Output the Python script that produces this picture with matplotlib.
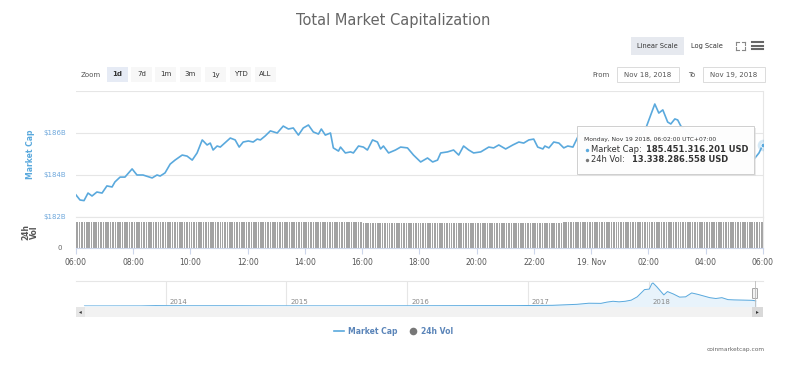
import numpy as np
import matplotlib
matplotlib.use("Agg")
import matplotlib.pyplot as plt
from matplotlib.patches import Rectangle, FancyBboxPatch

plt.rcParams['font.family'] = ['DejaVu Sans']

# hours after 06:00 on Nov 18 and total market cap in $B
hours = [0.00, 0.14, 0.28, 0.42, 0.56, 0.73, 0.91, 1.08, 1.26, 1.36, 1.54, 1.71, 1.96, 2.13,
         2.34, 2.66, 2.83, 2.94, 3.11, 3.29, 3.46, 3.71, 3.88, 4.06, 4.23, 4.41, 4.58, 4.69,
         4.79, 4.93, 5.04, 5.39, 5.56, 5.70, 5.84, 6.02, 6.19, 6.33, 6.44, 6.61, 6.79, 7.03,
         7.24, 7.42, 7.59, 7.77, 7.94, 8.12, 8.29, 8.47, 8.57, 8.71, 8.89, 8.99, 9.17, 9.24,
         9.41, 9.59, 9.69, 9.87, 10.04, 10.18, 10.36, 10.53, 10.64, 10.74, 10.92, 11.16, 11.34,
         11.58, 11.79, 12.04, 12.28, 12.46, 12.63, 12.74, 12.98, 13.19, 13.37, 13.54, 13.72,
         13.89, 14.14, 14.42, 14.59, 14.77, 15.01, 15.26, 15.47, 15.64, 15.82, 15.99, 16.13,
         16.31, 16.38, 16.52, 16.69, 16.87, 17.04, 17.18, 17.36, 17.53, 17.64, 17.98, 18.33,
         18.68, 19.03, 19.38, 19.73, 19.91, 20.08, 20.22, 20.36, 20.50, 20.67, 20.78, 20.92,
         21.02, 21.13, 21.48, 21.83, 22.18, 22.53, 22.88, 23.23, 23.51, 23.69, 23.86, 24.00]
market_cap = [183.05, 182.81, 182.78, 183.14, 183.00, 183.19, 183.14, 183.48, 183.43, 183.67,
              183.90, 183.90, 184.29, 184.00, 184.00, 183.86, 184.00, 183.95, 184.10, 184.52,
              184.71, 184.95, 184.90, 184.71, 185.05, 185.67, 185.43, 185.52, 185.19, 185.38,
              185.33, 185.76, 185.67, 185.33, 185.57, 185.62, 185.57, 185.71, 185.67, 185.86,
              186.10, 186.00, 186.33, 186.19, 186.24, 185.90, 186.24, 186.38, 186.05, 185.95,
              186.19, 185.90, 186.00, 185.29, 185.14, 185.33, 185.05, 185.10, 185.05, 185.38,
              185.33, 185.19, 185.67, 185.57, 185.24, 185.38, 185.05, 185.19, 185.33, 185.29,
              184.95, 184.62, 184.81, 184.62, 184.71, 185.05, 185.10, 185.19, 184.95, 185.38,
              185.19, 185.05, 185.10, 185.33, 185.29, 185.43, 185.24, 185.43, 185.57, 185.52,
              185.67, 185.71, 185.33, 185.24, 185.38, 185.29, 185.57, 185.52, 185.29, 185.38,
              185.33, 185.81, 186.00, 185.86, 185.76, 185.86, 185.67, 185.81, 185.90, 186.24,
              186.86, 187.38, 186.95, 187.10, 186.52, 186.43, 186.67, 186.62, 186.33, 185.90,
              185.76, 185.67, 185.57, 185.52, 185.33, 184.95, 184.76, 185.05, 185.45]

# 24h volume in $B, one value per hour (bars every 5 minutes)
vol_hourly = [13.3, 13.3, 13.3, 13.3, 13.3, 13.3, 13.3, 13.3, 13.3, 13.5, 12.9, 12.9,
              12.9, 12.9, 12.9, 12.9, 12.9, 13.1, 13.4, 13.1, 13.3, 13.3, 13.3, 13.34]

tick_hours = list(range(0, 25, 2))
tick_labels = ['06:00', '08:00', '10:00', '12:00', '14:00', '16:00', '18:00', '20:00',
               '22:00', '19. Nov', '02:00', '04:00', '06:00']

# navigator: whole history, year fraction vs market cap $B
nav_year = [2013.33, 2013.5, 2013.8, 2013.92, 2014.0, 2014.2, 2014.5, 2014.8, 2015.0, 2015.5,
            2015.9, 2016.0, 2016.5, 2016.9, 2017.0, 2017.2, 2017.4, 2017.5, 2017.6, 2017.65,
            2017.7, 2017.75, 2017.8, 2017.85, 2017.9, 2017.96, 2018.0, 2018.02, 2018.03,
            2018.06, 2018.1, 2018.12, 2018.15, 2018.2, 2018.25, 2018.3, 2018.35, 2018.4,
            2018.45, 2018.5, 2018.55, 2018.6, 2018.65, 2018.7, 2018.75, 2018.8, 2018.85, 2018.88]
nav_cap = [1.5, 1.2, 2.5, 14, 11, 8, 9, 5.5, 4.5, 4.5, 6.5, 7, 12, 14, 18, 25, 60, 100, 95, 140,
           170, 150, 170, 210, 330, 590, 610, 800, 830, 700, 500, 400, 520, 430, 320, 330, 470,
           420, 360, 300, 270, 300, 230, 220, 215, 210, 205, 185]
nav_years = [2014, 2015, 2016, 2017, 2018]

W, H = 803, 366
blue = '#5aa9dd'
fig = plt.figure(figsize=(W / 100, H / 100), dpi=100)

def box(x0, y0, x1, y1):
    return [x0 / W, 1 - y1 / H, (x1 - x0) / W, (y1 - y0) / H]

# main market cap panel
ax = fig.add_axes(box(76, 91, 763, 217))
ax.plot(hours, market_cap, color=blue, lw=1.2, zorder=3)
ax.scatter([hours[-1]], [market_cap[-1]], s=70, color=blue, alpha=0.25, lw=0, zorder=4)
ax.scatter([hours[-1]], [market_cap[-1]], s=12, color=blue, edgecolor='white', lw=0.6, zorder=5)
ax.set_xlim(0, 24)
ax.set_ylim(182, 188)
ax.set_yticks([182, 184, 186, 188])
ax.set_yticklabels(['$182B', '$184B', '$186B', ''])
ax.tick_params(axis='y', length=0, labelsize=5, labelcolor='#6fa8dc', pad=7)
ax.set_xticks([])
ax.grid(axis='y', color='#e6e6e6', lw=0.8)
for s in ax.spines.values():
    s.set_visible(False)
ax.spines['right'].set_visible(True)
ax.spines['right'].set_color('#e6e6e6')
ax.set_ylabel('Market Cap', color='#5aa9dd', fontsize=5.5, fontweight='bold', labelpad=6)

# volume panel
vx = np.arange(len(vol_hourly) * 12) / 12 + 1 / 24
vy = np.repeat(vol_hourly, 12)
vax = fig.add_axes(box(76, 217, 763, 248))
vax.bar(vx, vy, width=0.055, color='#a3a3a3', lw=0)
vax.set_xlim(0, 24)
vax.set_ylim(0, 15.9)
vax.set_yticks([0])
vax.set_yticklabels(['0'])
vax.tick_params(axis='y', length=0, labelsize=5, labelcolor='#666666', pad=10)
vax.set_xticks(tick_hours)
vax.set_xticklabels(tick_labels)
vax.tick_params(axis='x', length=4, color='#ccd6eb', labelsize=5.5, labelcolor='#555555', pad=3)
for s in vax.spines.values():
    s.set_visible(False)
vax.spines['bottom'].set_visible(True)
vax.spines['bottom'].set_color('#ccd6eb')
vax.spines['top'].set_visible(True)
vax.spines['top'].set_color('#e6e6e6')
vax.spines['right'].set_visible(True)
vax.spines['right'].set_color('#e6e6e6')
vax.set_ylabel('24h\nVol', color='#555555', fontsize=5.5, fontweight='bold', labelpad=13.5,
               linespacing=0.9)

# navigator
nax = fig.add_axes(box(76, 281, 763, 306))
nax.plot(nav_year, nav_cap, color=blue, lw=0.7)
nax.fill_between(nav_year, nav_cap, color='#e8f3fb')
nax.set_xlim(2013.26, 2018.94)
nax.set_ylim(0, 900)
nax.set_xticks([])
nax.set_yticks([])
for yr in nav_years:
    nax.axvline(yr, color='#e6e6e6', lw=0.8, zorder=0)
    nax.text(yr + 0.03, 130, str(yr), fontsize=5, color='#888888', va='center')
for s in nax.spines.values():
    s.set_visible(False)
nax.spines['top'].set_visible(True)
nax.spines['top'].set_color('#e6e6e6')

# overlay for decorations in pixel coordinates
ov = fig.add_axes([0, 0, 1, 1], zorder=10)
ov.set_xlim(0, W)
ov.set_ylim(H, 0)
ov.axis('off')
ov.patch.set_alpha(0)

ov.text(393, 20, 'Total Market Capitalization', ha='center', va='center', fontsize=10.5,
        color='#666666')

# scale buttons
ov.add_patch(Rectangle((631, 37), 53, 18, color='#e6e9ef', lw=0))
ov.text(657, 46, 'Linear Scale', ha='center', va='center', fontsize=4.8, color='#333333')
ov.text(707, 46, 'Log Scale', ha='center', va='center', fontsize=4.8, color='#333333')
# fullscreen icon drawn as four outward corner marks
for cx, cy, dx, dy in [(736, 42, 1, 1), (745, 42, -1, 1), (736, 50, 1, -1), (745, 50, -1, -1)]:
    ov.plot([cx, cx + 3 * dx], [cy, cy], color='#888888', lw=0.8)
    ov.plot([cx, cx], [cy, cy + 3 * dy], color='#888888', lw=0.8)
for yy in (42, 45.5, 49):
    ov.plot([752, 763], [yy, yy], color='#666666', lw=1.5)

# zoom buttons
ov.text(91, 75, 'Zoom', ha='center', va='center', fontsize=5, color='#555555')
zoom_btns = [('1d', 107, 128), ('7d', 131, 152), ('1m', 155, 176), ('3m', 180, 201),
             ('1y', 205, 226), ('YTD', 230, 251), ('ALL', 255, 276)]
for lab, x0, x1 in zoom_btns:
    sel = lab == '1d'
    ov.add_patch(Rectangle((x0, 67), x1 - x0, 15, color='#e6ebf5' if sel else '#f7f7f7', lw=0))
    ov.text((x0 + x1) / 2, 74.5, lab, ha='center', va='center', fontsize=5,
            color='#333333', fontweight='bold' if sel else 'normal')

# date range inputs
ov.text(601, 75, 'From', ha='center', va='center', fontsize=5, color='#555555')
ov.add_patch(Rectangle((617, 67), 62, 15, fc='white', ec='#d6d6d6', lw=0.6))
ov.text(648, 74.5, 'Nov 18, 2018', ha='center', va='center', fontsize=5, color='#555555')
ov.text(692, 75, 'To', ha='center', va='center', fontsize=5, color='#555555')
ov.add_patch(Rectangle((703, 67), 62, 15, fc='white', ec='#d6d6d6', lw=0.6))
ov.text(734, 74.5, 'Nov 19, 2018', ha='center', va='center', fontsize=5, color='#555555')

# tooltip
ov.add_patch(Rectangle((579, 128), 177, 48, fc='#dddddd', lw=0, alpha=0.6))
ov.add_patch(Rectangle((577, 126), 177, 48, fc='white', ec='#cccccc', lw=0.7, alpha=0.95))
ov.text(584, 139, 'Monday, Nov 19 2018, 06:02:00 UTC+07:00', fontsize=4.3, color='#333333',
        va='center')
ov.scatter([587], [149.5], s=6, color=blue, lw=0)
ov.text(591, 149.5, 'Market Cap: ', fontsize=6, color='#333333', va='center')
ov.text(646, 149.5, '185.451.316.201 USD', fontsize=6, color='#333333', va='center',
        fontweight='bold')
ov.scatter([587], [160], s=6, color='#777777', lw=0)
ov.text(591, 160, '24h Vol: ', fontsize=6, color='#333333', va='center')
ov.text(632, 160, '13.338.286.558 USD', fontsize=6, color='#333333', va='center',
        fontweight='bold')

# navigator scrollbar and handle
ov.add_patch(Rectangle((76, 307), 687, 10, color='#f2f2f2', lw=0))
ov.add_patch(Rectangle((76, 307), 9, 10, color='#e6e6e6', lw=0))
ov.add_patch(Rectangle((752, 307), 11, 10, color='#d9d9d9', lw=0))
ov.text(80.5, 312, '◂', ha='center', va='center', fontsize=4, color='#333333')
ov.text(757.5, 312, '▸', ha='center', va='center', fontsize=4, color='#333333')
ov.plot([755, 755], [281, 306], color='#bbbbbb', lw=0.6)
ov.add_patch(FancyBboxPatch((753, 289), 4, 9, boxstyle='round,pad=0.5', fc='#f2f2f2',
                            ec='#999999', lw=0.6))

# legend
ov.plot([334, 344], [331, 331], color=blue, lw=1.2)
ov.text(348, 331, 'Market Cap', fontsize=5.5, color='#5b85b9', fontweight='bold', va='center')
ov.scatter([413], [331], s=30, color='#777777', lw=0)
ov.text(421, 331, '24h Vol', fontsize=5.5, color='#5b85b9', fontweight='bold', va='center')

ov.text(765, 349, 'coinmarketcap.com', fontsize=4.2, color='#666666', ha='right', va='center')

fig.savefig('out.png', dpi=100)
